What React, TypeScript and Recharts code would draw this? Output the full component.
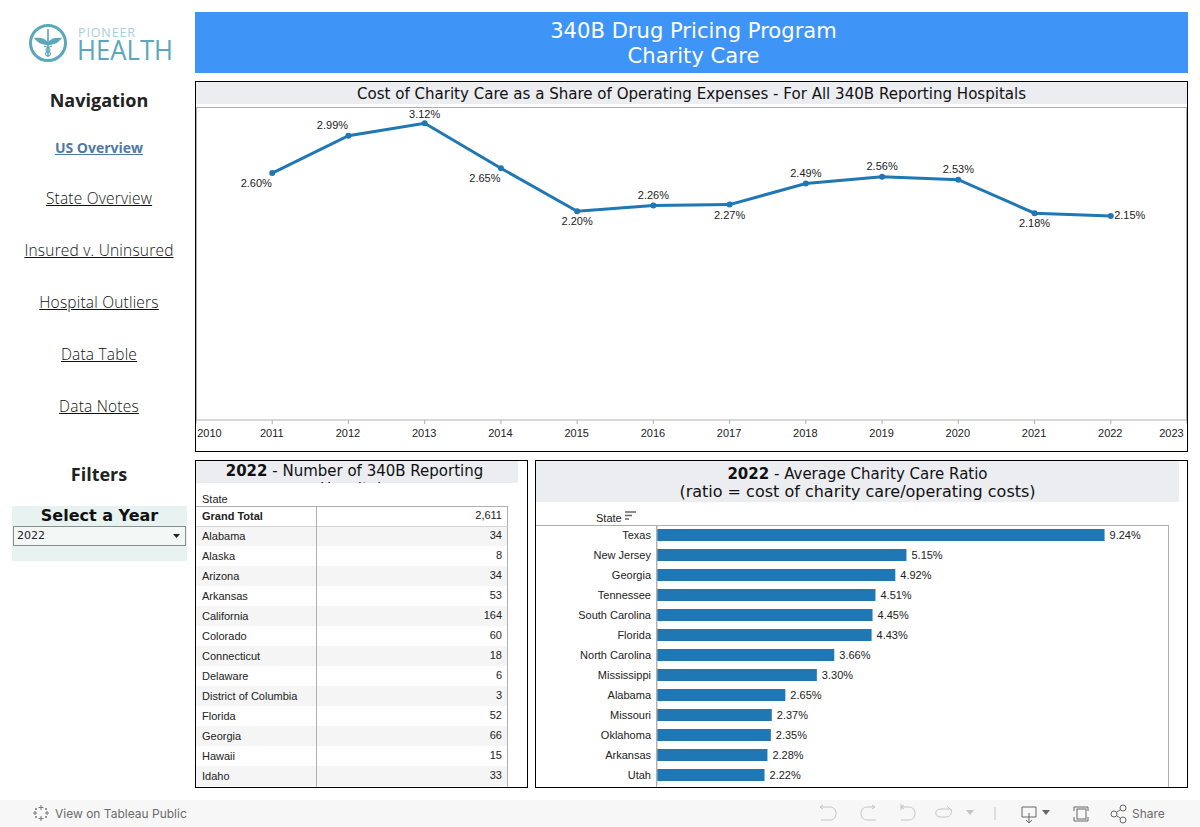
import React from "react";
import { BarChart, Bar, LineChart, Line, XAxis, YAxis, LabelList } from "recharts";

const years = [2011, 2012, 2013, 2014, 2015, 2016, 2017, 2018, 2019, 2020, 2021, 2022];
const shareOfExpenses = [2.6, 2.99, 3.12, 2.65, 2.2, 2.26, 2.27, 2.49, 2.56, 2.53, 2.18, 2.15];
const labelSides = ["lowerLeft", "upperLeft", "peak", "lowerLeft", "below", "above", "below", "above", "above", "above", "below", "right"];
const yearTicks = [2010, 2011, 2012, 2013, 2014, 2015, 2016, 2017, 2018, 2019, 2020, 2021, 2022, 2023];

const tableStates = ["Grand Total", "Alabama", "Alaska", "Arizona", "Arkansas", "California", "Colorado", "Connecticut", "Delaware", "District of Columbia", "Florida", "Georgia", "Hawaii", "Idaho"];
const tableCounts = [2611, 34, 8, 34, 53, 164, 60, 18, 6, 3, 52, 66, 15, 33];

const ratioStates = ["Texas", "New Jersey", "Georgia", "Tennessee", "South Carolina", "Florida", "North Carolina", "Mississippi", "Alabama", "Missouri", "Oklahoma", "Arkansas", "Utah"];
const ratioValues = [9.24, 5.15, 4.92, 4.51, 4.45, 4.43, 3.66, 3.3, 2.65, 2.37, 2.35, 2.28, 2.22];

const navLinks = ["State Overview", "Insured v. Uninsured", "Hospital Outliers", "Data Table", "Data Notes"];

const lineData = years.map((year, i) => ({ year, share: shareOfExpenses[i], side: labelSides[i] }));
const tableData = tableStates.map((state, i) => ({ state, count: tableCounts[i] }));
const ratioData = ratioStates.map((state, i) => ({ state, ratio: ratioValues[i] }));

const BLUE = "#1f77b4";
const GRID = "#b0b0b0";
const STRIPE = "#f5f5f5";
const STRIP_BG = "#ebedf1";
const ARIAL = "'Liberation Sans', Arial, sans-serif";
const DEJAVU = "'DejaVu Sans', sans-serif";
const NAV_FONT = "'Open Sans', sans-serif";
const TOOLBAR_FONT = "Inter, sans-serif";

const labelOffsets: Record<string, [number, number]> = {
    lowerLeft: [-16, 13.5],
    upperLeft: [-16, -7],
    peak: [0, -5],
    above: [0, -7],
    below: [0, 14],
    right: [19, 3],
};

function PointLabel({ x, y, index }: any) {
    const [dx, dy] = labelOffsets[labelSides[index]];
    return (
        <text x={x + dx} y={y + dy} textAnchor="middle" fontSize={11} fontFamily={ARIAL} fill="#222">
            {shareOfExpenses[index].toFixed(2)}%
        </text>
    );
}

function YearTick({ x, y, payload }: any) {
    // first and last labels are pushed inside the pane
    const shift = payload.value === 2010 ? 14 : payload.value === 2023 ? -15 : 0;
    return (
        <text x={x + shift - 0.5} y={y + 11} textAnchor="middle" fontSize={11} fontFamily={ARIAL} fill="#222">
            {payload.value}
        </text>
    );
}

function StateCell({ y, payload, index }: any) {
    const striped = index % 2 === 1;
    return (
        <g>
            {striped && <rect x={0} y={y - 10} width={120} height={20} fill={STRIPE} />}
            <text x={6} y={y + 4} fontSize={11} fontFamily={ARIAL} fill="#222" fontWeight={index === 0 ? 700 : 400}>
                {payload.value}
            </text>
        </g>
    );
}

function CountRow({ x, y, width, height, index }: any) {
    return <rect x={x} y={y} width={width} height={height} fill={index % 2 === 1 ? STRIPE : "#fff"} />;
}

function CountLabel({ x, y, width, height, value }: any) {
    return (
        <text x={x + width - 6} y={y + height / 2 + 3} textAnchor="end" fontSize={11} fontFamily={ARIAL} fill="#222">
            {Number(value).toLocaleString("en-US")}
        </text>
    );
}

function Box({ left, top, width, height, style, children }: any) {
    return <div style={{ position: "absolute", left, top, width, height, boxSizing: "border-box", ...style }}>{children}</div>;
}

function Centered({ y, children, style }: any) {
    return (
        <div style={{ position: "absolute", left: 0, width: 198, top: y, textAlign: "center", whiteSpace: "nowrap", ...style }}>
            {children}
        </div>
    );
}

function Logo() {
    return (
        <svg style={{ position: "absolute", left: 25, top: 20 }} width={155} height={46}>
            <circle cx={23} cy={23} r={17.5} fill="none" stroke="#5ba8bc" strokeWidth={3} />
            <path d="M23 9 V37" stroke="#5ba8bc" strokeWidth={1.6} />
            <path d="M9 18 C15 17 20 18 23 22 C26 18 31 17 37 18 C33 23 29 25 23 25 C17 25 13 23 9 18 Z" fill="#5ba8bc" />
            <path d="M19 26 C25 28 27 30 23 32 C19 33 20 35 23 36 M27 26 C21 28 19 30 23 32 C27 33 26 35 23 36" stroke="#5ba8bc" strokeWidth={1.2} fill="none" />
            <text x={53} y={17} fontSize={12.5} fontFamily={NAV_FONT} fill="#a9cede" textLength={57}>PIONEER</text>
            <text x={52} y={39.5} fontSize={27} fontFamily={NAV_FONT} fill="#5ba8bc" textLength={96} lengthAdjust="spacingAndGlyphs">HEALTH</text>
        </svg>
    );
}

function Toolbar() {
    const icon = { fill: "none", stroke: "#9a9a9a", strokeWidth: 1 };
    const faint = { fill: "none", stroke: "#c4c4c4", strokeWidth: 1 };
    return (
        <Box left={0} top={800} width={1200} height={27} style={{ background: "#f7f7f7" }}>
            <svg style={{ position: "absolute", left: 0, top: 0 }} width={1200} height={27}>
                <g stroke="#777" strokeWidth={1} fill="none">
                    <path d="M41 5 V10 M38.5 7.5 H43.5 M41 16 V21 M38.5 18.5 H43.5 M35 11 V15 M33 13 H37 M47 11 V15 M45 13 H49 M36 8 V10 M35 9 H37 M46 8 V10 M45 9 H47 M36 16 V18 M35 17 H37 M46 16 V18 M45 17 H47" />
                </g>
                <text x={55} y={18} fontSize={12} fontFamily={TOOLBAR_FONT} fill="#6b6b6b">View on Tableau Public</text>
                <path d="M820 7 H830 C838 7 838 20 830 20 H821 M820 7 L823 5 M820 7 L823 9" {...faint} />
                <path d="M875 7 H867 C859 7 859 20 867 20 H876 M875 7 L872 5 M875 7 L872 9" {...faint} />
                <path d="M901 7 H909 C917 7 917 20 909 20 H901 M901 4 V10 M904 5 L901 7 L904 9" {...faint} />
                <path d="M950 9 H941 C934 9 934 17 941 17 H946 C952 17 953 9 950 9 M950 9 L947 6" {...faint} />
                <path d="M966 10 L974 10 L970 15 Z" fill="#c4c4c4" />
                <path d="M995 7 V20" {...faint} />
                <path d="M1022 7 H1036 V17 H1022 Z M1029 13 V23 M1026 20 L1029 23 L1032 20" stroke="#666" strokeWidth={1} fill="#f7f7f7" />
                <path d="M1042 10 L1050 10 L1046 15 Z" fill="#666" />
                <path d="M1074 11 V7 H1088 V11 M1074 17 V21 H1088 V17" {...icon} stroke="#666" />
                <rect x={1077} y={9} width={9} height={10} {...icon} stroke="#666" />
                <circle cx={1114} cy={14} r={3} {...icon} stroke="#666" />
                <circle cx={1123} cy={8} r={3} {...icon} stroke="#666" />
                <circle cx={1123} cy={20} r={3} {...icon} stroke="#666" />
                <path d="M1117 12 L1120 10 M1117 16 L1120 18" {...icon} stroke="#666" />
                <text x={1132} y={18} fontSize={12} fontFamily={TOOLBAR_FONT} fill="#6b6b6b">Share</text>
            </svg>
        </Box>
    );
}

export default function App() {
    const linkStyle = { fontFamily: NAV_FONT, fontSize: 15.5, letterSpacing: 0.2, fontWeight: 300, color: "#111", textDecoration: "underline" };
    return (
        <div style={{ position: "absolute", left: 0, top: 0, width: 1200, height: 827, overflow: "hidden", background: "#fff" }}>
            <Logo />

            {/* left rail */}
            <Centered y={88} style={{ fontFamily: NAV_FONT, fontSize: 18, fontWeight: 700, color: "#222", lineHeight: "24px" }}>Navigation</Centered>
            <Centered y={138} style={{ ...linkStyle, fontSize: 14, letterSpacing: 0, fontWeight: 700, color: "#4e79a7", lineHeight: "20px" }}>US Overview</Centered>
            {navLinks.map((link, i) => (
                <Centered key={link} y={188 + i * 52} style={{ ...linkStyle, lineHeight: "20px" }}>{link}</Centered>
            ))}
            <Centered y={462} style={{ fontFamily: NAV_FONT, fontSize: 18, fontWeight: 700, color: "#222", lineHeight: "24px" }}>Filters</Centered>

            <Box left={12} top={506} width={175} height={55} style={{ background: "#e8f2f0" }}>
                <div style={{ textAlign: "center", fontFamily: DEJAVU, fontSize: 16, fontWeight: 700, lineHeight: "19px", color: "#111" }}>Select a Year</div>
                <Box left={1} top={20} width={173} height={20} style={{ background: "#f3f8f7", border: "1px solid #8a8f8e", fontFamily: DEJAVU, fontSize: 11, lineHeight: "18px", paddingLeft: 3, color: "#222" }}>
                    2022
                    <svg style={{ position: "absolute", right: 4, top: 7 }} width={8} height={5}><path d="M0 0 H7 L3.5 4 Z" fill="#222" /></svg>
                </Box>
            </Box>

            {/* banner */}
            <Box left={195} top={12} width={993} height={61} style={{ background: "#3e95f7", color: "#fff", textAlign: "center", fontFamily: DEJAVU, fontSize: 21.1, lineHeight: "25px", paddingTop: 6, paddingLeft: 4 }}>
                <div>340B Drug Pricing Program</div>
                <div>Charity Care</div>
            </Box>

            {/* trend pane */}
            <Box left={195} top={81} width={993} height={371} style={{ border: "1px solid #000" }} />
            <Box left={196} top={82} width={991} height={22} style={{ background: STRIP_BG, textAlign: "center", fontFamily: DEJAVU, fontSize: 15.05, lineHeight: "22px", paddingTop: 1, color: "#111", overflow: "hidden" }}>
                Cost of Charity Care as a Share of Operating Expenses - For All 340B Reporting Hospitals
            </Box>
            <Box left={196} top={107} width={991} height={314} style={{ borderTop: `1px solid ${GRID}`, borderLeft: `1px solid ${GRID}`, borderRight: `1px solid ${GRID}` }} />
            <div style={{ position: "absolute", left: 196, top: 107 }}>
                <LineChart width={991} height={344} data={lineData} margin={{ top: 1, right: 0, bottom: 0, left: 0 }}>
                    <XAxis
                        dataKey="year"
                        type="number"
                        domain={[2010, 2023]}
                        ticks={yearTicks}
                        interval={0}
                        height={31}
                        stroke={GRID}
                        tickSize={4}
                        tick={<YearTick />}
                    />
                    <YAxis hide domain={[0.018, 3.28]} />
                    <Line
                        dataKey="share"
                        type="linear"
                        stroke={BLUE}
                        strokeWidth={3}
                        dot={{ r: 3, fill: BLUE, stroke: BLUE, strokeWidth: 0 }}
                        isAnimationActive={false}
                    >
                        <LabelList dataKey="share" content={<PointLabel />} />
                    </Line>
                </LineChart>
            </div>

            {/* count table pane */}
            <Box left={195} top={460} width={333} height={328} style={{ border: "1px solid #000", overflow: "hidden" }}>
                <Box left={0} top={0} width={322} height={22} style={{ background: STRIP_BG, overflow: "hidden", textAlign: "center", fontFamily: DEJAVU, fontSize: 15, lineHeight: "18px", paddingTop: 1, paddingRight: 5, color: "#111" }}>
                    <b>2022</b> - Number of 340B Reporting<br />Hospitals
                </Box>
                <div style={{ position: "absolute", left: 6, top: 32, fontFamily: ARIAL, fontSize: 11, color: "#222" }}>State</div>
                <div style={{ position: "absolute", left: 0, top: 45 }}>
                    <BarChart width={312} height={280} data={tableData} layout="vertical" barCategoryGap={0} margin={{ top: 0, right: 0, bottom: 0, left: 0 }}>
                        <XAxis type="number" hide domain={[0, 1]} />
                        <YAxis type="category" dataKey="state" width={120} interval={0} tickLine={false} axisLine={false} tick={<StateCell />} />
                        <Bar dataKey={() => 1} shape={<CountRow />} isAnimationActive={false}>
                            <LabelList dataKey="count" content={<CountLabel />} />
                        </Bar>
                    </BarChart>
                </div>
                <Box left={0} top={45} width={312} height={281} style={{ borderTop: `1px solid ${GRID}`, borderRight: `1px solid ${GRID}` }} />
                <Box left={0} top={65} width={312} height={1} style={{ background: "#d4d4d4" }} />
                <Box left={120} top={45} width={1} height={281} style={{ background: GRID }} />
            </Box>

            {/* ratio bars pane */}
            <Box left={535} top={460} width={653} height={328} style={{ border: "1px solid #000", overflow: "hidden" }}>
                <Box left={0} top={0} width={643} height={41} style={{ background: STRIP_BG, textAlign: "center", fontFamily: DEJAVU, fontSize: 15, lineHeight: "18px", paddingTop: 4, color: "#111" }}>
                    <div><b>2022</b> - Average Charity Care Ratio</div>
                    <div style={{ fontSize: 16 }}>(ratio = cost of charity care/operating costs)</div>
                </Box>
                <div style={{ position: "absolute", left: 60, top: 51, fontFamily: ARIAL, fontSize: 11, color: "#222" }}>State</div>
                <svg style={{ position: "absolute", left: 89, top: 50 }} width={12} height={10}>
                    <path d="M0 1 H11 M0 4.5 H7 M0 8 H4" stroke="#666" strokeWidth={1.5} />
                </svg>
                <Box left={0} top={64} width={633} height={264} style={{ borderTop: `1px solid ${GRID}`, borderRight: `1px solid ${GRID}` }} />
                <div style={{ position: "absolute", left: 0, top: 64 }}>
                    <BarChart width={633} height={260} data={ratioData} layout="vertical" barCategoryGap={4} margin={{ top: 0, right: 0, bottom: 0, left: 0 }}>
                        <XAxis type="number" hide domain={[0, 10.57]} />
                        <YAxis
                            type="category"
                            dataKey="state"
                            width={121}
                            interval={0}
                            stroke={GRID}
                            tickLine={false}
                            tickSize={0}
                            tickMargin={6}
                            tick={{ fontSize: 11, fontFamily: ARIAL, fill: "#222" }}
                        />
                        <Bar dataKey="ratio" fill={BLUE} isAnimationActive={false}>
                            <LabelList
                                dataKey="ratio"
                                position="right"
                                offset={5}
                                formatter={(v: number) => `${v.toFixed(2)}%`}
                                style={{ fontSize: 11, fontFamily: ARIAL, fill: "#222" }}
                            />
                        </Bar>
                    </BarChart>
                </div>
                <Box left={120} top={64} width={1} height={264} style={{ background: GRID }} />
            </Box>

            <Toolbar />
        </div>
    );
}
